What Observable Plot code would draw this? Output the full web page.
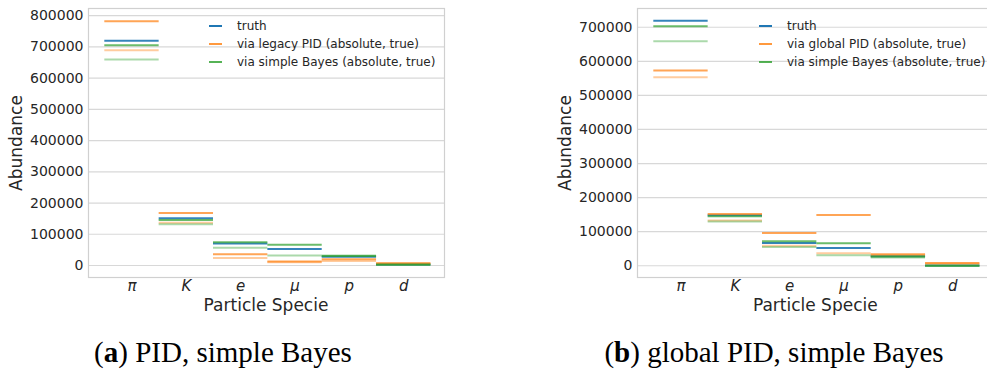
<!DOCTYPE html>
<html>
<head>
<meta charset="utf-8">
<script src="https://cdn.jsdelivr.net/npm/d3@7"></script>
<script src="https://cdn.jsdelivr.net/npm/@observablehq/plot@0.6"></script>
<style>
  html, body { margin: 0; padding: 0; background: #fff; }
  #wrap { position: relative; width: 987px; height: 369px; overflow: hidden; background: #fff; }
  .panel { position: absolute; top: 0; width: 460px; height: 300px; }
  .panel svg { max-width: none !important; width: 460px; height: 300px; }
  .lab { position: absolute; font-family: "DejaVu Sans", sans-serif; color: #262626; white-space: nowrap; }
  .ylab { transform: translate(-50%, -50%) rotate(-90deg); font-size: 17px; }
  .xlab { transform: translate(-50%, -50%); font-size: 17px; }
  .leg { position: absolute; font-family: "DejaVu Sans", sans-serif; font-size: 12px; color: #262626; white-space: nowrap; }
  .leg .row { position: absolute; left: 0; height: 18px; line-height: 18px; transform: translateY(-50%); }
  .leg .sw { position: absolute; width: 13px; height: 2px; top: 8px; }
  .leg .tx { position: absolute; }
  .cap { position: absolute; font-family: "Liberation Serif", "Times New Roman", serif; font-size: 29px; color: #000; white-space: nowrap; transform: translate(-50%, -50%); }
</style>
</head>
<body>
<div id="wrap"></div>
<script>
// ---------- data ----------
const categories = ["π", "K", "e", "μ", "p", "d"];

// panel (a): PID, simple Bayes
const legendA = ["truth", "via legacy PID (absolute, true)", "via simple Bayes (absolute, true)"];
const truthA      = [720000, 151000, 70000, 53000, 28000, 3000];
const legacyAbsA  = [782000, 168000, 36000, 13000, 20000, 7000];
const legacyTrueA = [689000, 137000, 24000, 10000, 14000, 6000];
const bayesAbsA   = [705000, 146000, 74000, 66000, 30000, 2000];
const bayesTrueA  = [660000, 132000, 57000, 32000, 32000, 3000];
const yTicksA = [0, 100000, 200000, 300000, 400000, 500000, 600000, 700000, 800000];

// panel (b): global PID, simple Bayes
const legendB = ["truth", "via global PID (absolute, true)", "via simple Bayes (absolute, true)"];
const truthB      = [719000, 148000, 67000, 52000, 28000, 1000];
const globalAbsB  = [573000, 152000, 96000, 149000, 34000, 8000];
const globalTrueB = [553000, 133000, 59000, 37000, 31000, 6000];
const bayesAbsB   = [703000, 145000, 72000, 66000, 27000, 0];
const bayesTrueB  = [659000, 130000, 55000, 31000, 24000, 0];
const yTicksB = [0, 100000, 200000, 300000, 400000, 500000, 600000, 700000];

const captionA = ["a", " PID, simple Bayes"];
const captionB = ["b", " global PID, simple Bayes"];
const xLabel = "Particle Specie";
const yLabel = "Abundance";

// ---------- styles ----------
const BLUE = "#1f77b4", ORANGE = "#ff7f0e", GREEN = "#2ca02c";

function rows(values) {
  return values.map((v, i) => ({i, value: v}));
}

function panel(series, yDomain, yTicks) {
  const segs = series.map(s =>
    Plot.ruleY(rows(s.values), {
      y: "value", x1: d => d.i - 0.5, x2: d => d.i + 0.5,
      stroke: s.color, strokeOpacity: s.opacity, strokeWidth: 2
    })
  );
  return Plot.plot({
    width: 460, height: 300,
    marginLeft: 88, marginRight: 16, marginTop: 8, marginBottom: 23,
    style: {fontFamily: "DejaVu Sans", fontSize: "14px", color: "#262626", background: "transparent", overflow: "visible", maxWidth: "none"},
    x: {type: "linear", domain: [-0.8, 5.75]},
    y: {domain: yDomain},
    marks: [
      Plot.gridY(yTicks, {stroke: "#d8d8d8", strokeOpacity: 1, strokeWidth: 1.2}),
      Plot.frame({stroke: "#d0d0d0", strokeWidth: 1.2}),
      Plot.axisY(yTicks, {tickSize: 0, tickPadding: 5, label: null, tickFormat: d => String(d), fontSize: 14}),
      Plot.axisX(d3.range(categories.length), {tickSize: 0, tickPadding: 3, label: null, tickFormat: i => categories[i], fontStyle: "italic", fontSize: 15}),
      ...segs
    ]
  });
}

const wrap = document.getElementById("wrap");

function addPanel(left, series, yDomain, yTicks, legendLabels, legendColors, legendX, captionParts, captionX) {
  const svg = panel(series, yDomain, yTicks);
  const div = document.createElement("div");
  div.className = "panel";
  div.style.left = left + "px";
  div.appendChild(svg);
  wrap.appendChild(div);

  const frameL = left + 88, frameR = left + 88 + 356, frameT = 8, frameB = 277;
  const yl = document.createElement("div");
  yl.className = "lab ylab"; yl.textContent = yLabel;
  yl.style.left = (frameL - 72) + "px"; yl.style.top = ((frameT + frameB) / 2) + "px";
  wrap.appendChild(yl);
  const xl = document.createElement("div");
  xl.className = "lab xlab"; xl.textContent = xLabel;
  xl.style.left = ((frameL + frameR) / 2) + "px"; xl.style.top = "305px";
  wrap.appendChild(xl);

  const leg = document.createElement("div");
  leg.className = "leg";
  leg.style.left = legendX + "px"; leg.style.top = "0px";
  legendLabels.forEach((t, k) => {
    const r = document.createElement("div");
    r.className = "row";
    r.style.top = (25.8 + 18 * k) + "px";
    const sw = document.createElement("div");
    sw.className = "sw";
    sw.style.background = legendColors[k].color;
    sw.style.opacity = legendColors[k].opacity;
    const tx = document.createElement("div");
    tx.className = "tx"; tx.style.left = "28px"; tx.textContent = t;
    r.appendChild(sw); r.appendChild(tx);
    leg.appendChild(r);
  });
  wrap.appendChild(leg);

  const cap = document.createElement("div");
  cap.className = "cap";
  cap.style.left = captionX + "px"; cap.style.top = "352px";
  cap.append("(");
  const b = document.createElement("b"); b.textContent = captionParts[0];
  cap.append(b); cap.append(")" + captionParts[1]);
  wrap.appendChild(cap);
}

const legendColors = [
  {color: BLUE, opacity: 1},
  {color: ORANGE, opacity: 0.8},
  {color: GREEN, opacity: 0.8}
];

addPanel(0, [
  {values: truthA, color: BLUE, opacity: 0.9},
  {values: legacyAbsA, color: ORANGE, opacity: 0.7},
  {values: legacyTrueA, color: ORANGE, opacity: 0.4},
  {values: bayesAbsA, color: GREEN, opacity: 0.7},
  {values: bayesTrueA, color: GREEN, opacity: 0.4}
], [-38500, 823000], yTicksA, legendA, legendColors, 209, captionA, 223);

addPanel(549.3, [
  {values: truthB, color: BLUE, opacity: 0.9},
  {values: globalAbsB, color: ORANGE, opacity: 0.7},
  {values: globalTrueB, color: ORANGE, opacity: 0.4},
  {values: bayesAbsB, color: GREEN, opacity: 0.7},
  {values: bayesTrueB, color: GREEN, opacity: 0.4}
], [-34500, 755000], yTicksB, legendB, legendColors, 759, captionB, 774);
</script>
</body>
</html>
